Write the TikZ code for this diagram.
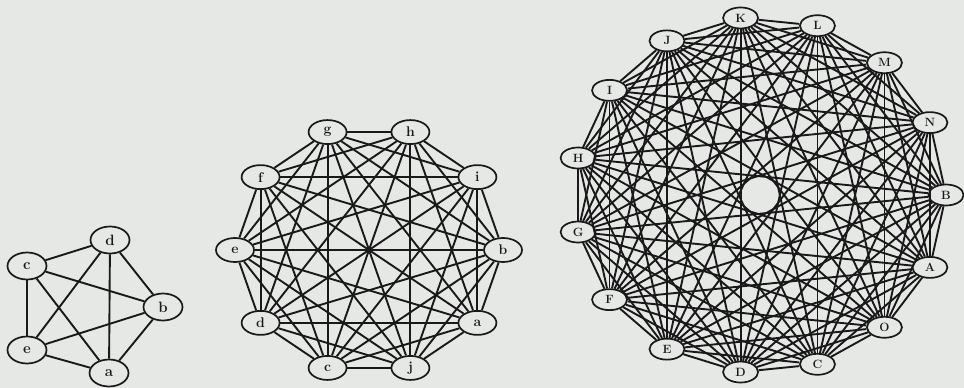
\documentclass[tikz,border=0pt]{standalone}
\usetikzlibrary{shapes.geometric}
\definecolor{paper}{RGB}{230,232,230}
\definecolor{ink}{RGB}{25,25,25}
\begin{document}
\begin{tikzpicture}[x=1pt,y=-1pt,
  vbase/.style={ellipse,draw=ink,line width=1.7pt,fill=paper,inner sep=0pt,text=ink},
  vfive/.style={vbase,minimum width=39pt,minimum height=27pt,font=\fontsize{15}{15}\selectfont\bfseries},
  vten/.style={vbase,minimum width=38pt,minimum height=24pt,font=\fontsize{14}{14}\selectfont\bfseries},
  vfift/.style={vbase,minimum width=35pt,minimum height=21pt,font=\fontsize{12}{12}\selectfont\bfseries},
  edge/.style={draw=ink,line width=1.9pt}]
\fill[paper] (0,0) rectangle (964,388);
\useasboundingbox (0,0) rectangle (964,388);
% K5
\node[vfive] (Pd) at (110,240) {d};
\node[vfive] (Pc) at (27,266) {c};
\node[vfive] (Pb) at (163,307) {b};
\node[vfive] (Pe) at (27,350) {e};
\node[vfive] (Pa) at (109,373) {a};
\foreach \u/\v in {d/c,d/b,d/e,d/a,c/b,c/e,c/a,b/e,b/a,e/a}
  \draw[edge] (P\u) -- (P\v);
% K10
\foreach \lab [count=\i from 0] in {b,i,h,g,f,e,d,c,j,a}
  \node[vten] (T\i) at ({369+134*cos(36*\i)},{250-124*sin(36*\i)}) {\lab};
\foreach \i in {0,...,8}{
  \pgfmathtruncatemacro\s{\i+1}
  \foreach \j in {\s,...,9} \draw[edge] (T\i) -- (T\j);
}
% K15
\foreach \lab [count=\i from 0] in {B,N,M,L,K,J,I,H,G,F,E,D,C,O,A}
  \node[vfift] (F\i) at ({760+186*cos(24*\i)},{195-178*sin(24*\i)}) {\lab};
\foreach \i in {0,...,13}{
  \pgfmathtruncatemacro\s{\i+1}
  \foreach \j in {\s,...,14} \draw[edge] (F\i) -- (F\j);
}
\end{tikzpicture}
\end{document}
